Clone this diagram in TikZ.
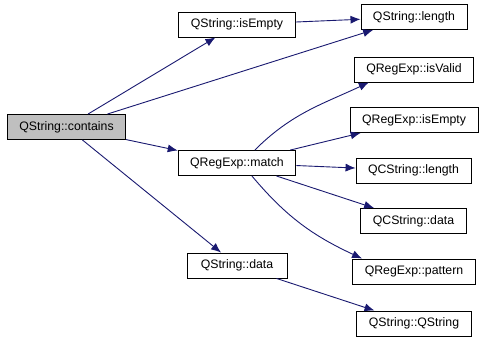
\documentclass[tikz,border=0pt]{standalone}
\usepackage{fontspec}
\setmainfont{Liberation Sans}
\usepackage{tikz}
\usetikzlibrary{shapes,arrows,positioning}
\usetikzlibrary{arrows.meta}
\definecolor{edgeblue}{RGB}{25,25,112}
\definecolor{hlgray}{RGB}{191,191,191}
\tikzstyle{fn} = [draw, rectangle, line width=0.9pt, minimum height=25pt,
  inner xsep=12pt, text centered, font=\fontsize{12.3}{14}\selectfont]
\tikzstyle{line} = [draw, edgeblue, line width=0.9pt,
  -{Latex[length=10pt,width=8pt]}]

\begin{document}
\begin{tikzpicture}[x=1pt,y=-1pt]
  \useasboundingbox (0,0) rectangle (487,341);

  % caller
  \node [fn, fill=hlgray] (contains) at (66.5,127) {QString::contains};

  % first level
  \node [fn] (qsempty) at (237,24.5) {QString::isEmpty};
  \node [fn] (rematch) at (237,163) {QRegExp::match};
  \node [fn, minimum width=100pt] (qsdata) at (237,265.5) {QString::data};

  % second level
  \node [fn] (qslength) at (414,17) {QString::length};
  \node [fn] (revalid) at (414,69.5) {QRegExp::isValid};
  \node [fn] (reempty) at (414,120) {QRegExp::isEmpty};
  \node [fn] (cslength) at (413.5,170.5) {QCString::length};
  \node [fn] (csdata) at (413.5,221) {QCString::data};
  \node [fn] (repattern) at (414,271.5) {QRegExp::pattern};
  \node [fn] (qsstring) at (414,323.5) {QString::QString};

  \path [line] (contains) -- (qsempty);
  \path [line] (contains) -- (qslength);
  \path [line] (contains) -- (rematch);
  \path [line] (contains) -- (qsdata);
  \path [line] (qsempty) -- (qslength);

  \path [line] (rematch.36) to[out=45,in=205] (revalid.196);
  \path [line] (rematch) -- (reempty);
  \path [line] (rematch) -- (cslength);
  \path [line] (rematch) -- (csdata);
  \path [line] (rematch.-41) to[out=-50,in=155] (repattern.166);

  \path [line] (qsdata) -- (qsstring);

\end{tikzpicture}
\end{document}
